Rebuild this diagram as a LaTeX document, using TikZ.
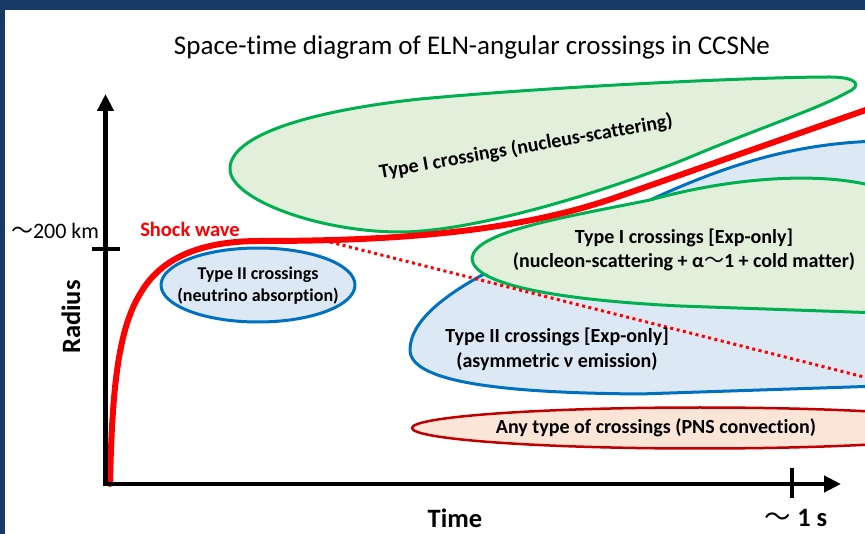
\documentclass[tikz,border=0pt]{standalone}
\usepackage{fontspec}
\setmainfont{Carlito}[RawFeature=-liga]
\newfontfamily\cjk{Noto Sans CJK JP}
\usetikzlibrary{arrows.meta,shapes.geometric}
\definecolor{framenavy}{HTML}{173A66}
\definecolor{grnline}{HTML}{00B050}
\definecolor{grnfill}{HTML}{E2EFDA}
\definecolor{bluline}{HTML}{0070C0}
\definecolor{blufill}{HTML}{DDE8F5}
\definecolor{redline}{HTML}{C00000}
\definecolor{redfill}{HTML}{FBE5D6}
\definecolor{shock}{HTML}{FF0000}
\newcommand{\wtilde}{{\cjk\mdseries ～}}
\tikzset{
  greenzone/.style={draw=grnline, fill=grnfill, line width=3pt},
  bluezone/.style={draw=bluline, fill=blufill, line width=3pt},
  pnszone/.style={draw=redline, fill=redfill, line width=2.5pt},
  axisline/.style={line width=4.5pt, -{Triangle[width=16pt,length=17pt]}},
  tickline/.style={line width=4.5pt},
  lbl/.style={font=\bfseries\fontsize{20}{25}\selectfont, align=center, inner sep=0pt},
  axlbl/.style={font=\bfseries\fontsize{26.5}{30}\selectfont, inner sep=0pt},
}
\begin{document}
\begin{tikzpicture}[x=1pt, y=-1pt, line join=round]
\useasboundingbox (0,0) rectangle (865,534);
% slide frame
\fill[framenavy] (0,0) rectangle (865,10);
\fill[framenavy] (0,0) rectangle (5,534);

\begin{scope}
\clip (5,10) rectangle (865,534);
% nucleus-scattering region
\draw[greenzone] (848,92) .. controls (820,108) and (760,128) .. (700,153)
  .. controls (600,195) and (470,232) .. (400,232)
  .. controls (320,232) and (232,200) .. (230,170)
  .. controls (228,138) and (300,112) .. (420,99)
  .. controls (560,86) and (760,77) .. (830,77)
  .. controls (858,77) and (862,86) .. (848,92) -- cycle;
% asymmetric emission region
\draw[bluezone] (880,141) .. controls (790,143) and (720,168) .. (650,200)
  .. controls (560,240) and (410,290) .. (410,350)
  .. controls (410,385) and (520,393) .. (640,394)
  -- (880,386) -- cycle;
% nucleon-scattering region
\draw[greenzone] (880,188) .. controls (830,172) and (740,175) .. (650,200)
  .. controls (560,218) and (475,232) .. (472,258)
  .. controls (472,285) and (560,300) .. (680,306)
  -- (880,313) -- cycle;
% PNS convection region
\draw[pnszone] (700,428) ellipse [x radius=288, y radius=20.5];
% neutrino absorption region
\node[ellipse, bluezone, minimum width=194pt, minimum height=74pt, inner sep=0pt]
  (absorb) at (258,285) {};
% shock trajectory
\draw[shock, line width=6pt, line cap=round]
  (110,484) .. controls (112,390) and (118,330) .. (140,294)
  .. controls (155,268) and (185,241) .. (260,241)
  .. controls (400,241) and (520,231.5) .. (620,196) -- (880,105);
\draw[shock, line width=3pt, dash pattern=on 3pt off 3.5pt]
  (330,242) -- (880,381);
\end{scope}

% axes
\coordinate (O) at (105.5,484);
\coordinate (ytop) at (105.5,94);
\coordinate (xend) at (841,484);
\draw[axisline] ([yshift=-2.25pt]O) -- (ytop);
\draw[axisline] ([xshift=-2.25pt]O) -- (xend);
\coordinate (ytickL) at (92,249);
\coordinate (ytickR) at (120,249);
\coordinate (xtickT) at (792,468);
\coordinate (xtickB) at (792,498);
\draw[tickline] (ytickL) -- (ytickR);
\draw[tickline] (xtickT) -- (xtickB);

% labels
\node[font=\fontsize{27}{30}\selectfont, inner sep=0pt] (title) at (472,47)
  {Space-time diagram of ELN-angular crossings in CCSNe};
\node[font=\fontsize{22}{24}\selectfont, inner sep=0pt] (rlab) at (55,231) {\wtilde200 km};
\node[font=\bfseries\fontsize{20.5}{24}\selectfont, text=shock, inner sep=0pt] (shocklab) at (190,229) {Shock wave};
\node[axlbl, rotate=90] (radius) at (71,317) {Radius};
\node[axlbl] (time) at (455,518) {Time};
\node[axlbl] (onesec) at (796,518) {\wtilde\ 1 s};
\node[lbl, font=\bfseries\fontsize{18}{22}\selectfont] (absorbtext) at ([yshift=-1pt]absorb.center)
  {Type II crossings\\(neutrino absorption)};
\node[lbl, rotate=10] (nucleus) at (526,147) {Type I crossings (nucleus-scattering)};
\node[lbl, font=\bfseries\fontsize{20}{24}\selectfont] (nucleon) at (684,250)
  {Type I crossings [Exp-only]\\(nucleon-scattering + α\wtilde1 + cold matter)};
\node[lbl] (asym) at (557,349)
  {Type II crossings [Exp-only]\\(asymmetric ν emission)};
\node[lbl] (pns) at (656,428) {Any type of crossings (PNS convection)};
\end{tikzpicture}
\end{document}
